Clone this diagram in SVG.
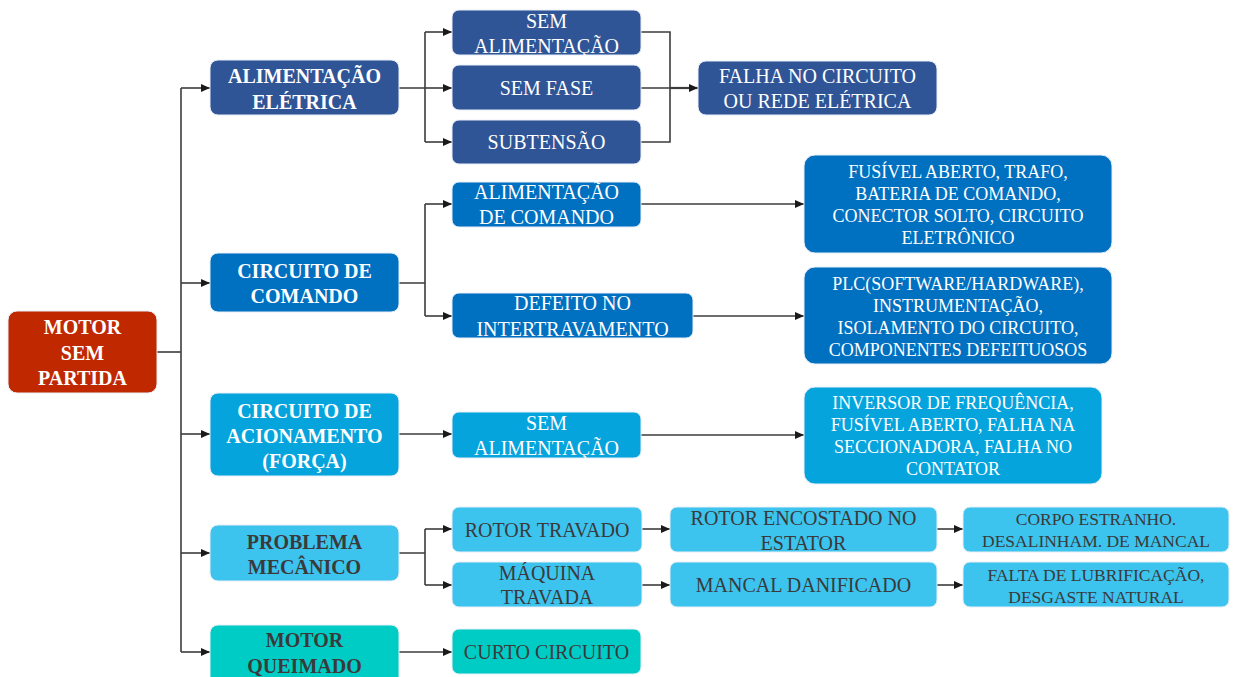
<svg xmlns="http://www.w3.org/2000/svg" width="1235" height="677" viewBox="0 0 1235 677">
  <defs>
    <marker id="arrow" markerUnits="userSpaceOnUse" markerWidth="9" markerHeight="8" refX="9" refY="4" orient="auto">
      <path d="M0,0 L9,4 L0,8 z" fill="#1a1a1a"/>
    </marker>
    <style>
      .box { stroke: #e8eef6; stroke-width: 1; }
      .c-root { fill: #c02800; }
      .c-elet { fill: #2f5597; }
      .c-cmd { fill: #0070c0; }
      .c-acio { fill: #05a4dd; }
      .c-mec { fill: #3cc3ee; }
      .c-quei { fill: #00ccc6; }
      text { font-family: "Liberation Serif", "Times New Roman", serif; text-anchor: middle; }
      .hd { font-size: 20px; font-weight: bold; }
      .t20 { font-size: 20px; }
      .t18 { font-size: 18px; }
      .t17 { font-size: 17.5px; }
      .lt { fill: #ffffff; }
      .dk { fill: #3a3a3a; }
      .conn { fill: none; stroke: #3c3c3c; stroke-width: 1.6; }
      .arr { marker-end: url(#arrow); }
    </style>
  </defs>

  <!-- connectors -->
  <g id="connectors">
    <path class="conn" d="M157,352 H181"/>
    <path class="conn" d="M181,88 V652"/>
    <path class="conn arr" d="M181,88 H210"/>
    <path class="conn arr" d="M181,283 H210"/>
    <path class="conn arr" d="M181,434 H210"/>
    <path class="conn arr" d="M181,553 H210"/>
    <path class="conn arr" d="M181,652 H210"/>

    <!-- alimentação elétrica branch -->
    <path class="conn" d="M399,88 H425 M425,32 V142"/>
    <path class="conn arr" d="M425,32 H452"/>
    <path class="conn arr" d="M425,88 H452"/>
    <path class="conn arr" d="M425,142 H452"/>
    <path class="conn" d="M641,32 H670 V142 H641 M641,88 H670"/>
    <path class="conn arr" d="M670,88 H698" style="stroke-width:2.2"/>

    <!-- circuito de comando branch -->
    <path class="conn" d="M399,283 H425 M425,204 V316"/>
    <path class="conn arr" d="M425,204 H452"/>
    <path class="conn arr" d="M425,316 H452"/>
    <path class="conn arr" d="M641,204 H804"/>
    <path class="conn arr" d="M693,316 H804"/>

    <!-- circuito de acionamento branch -->
    <path class="conn arr" d="M399,434 H452"/>
    <path class="conn arr" d="M641,435 H804"/>

    <!-- problema mecânico branch -->
    <path class="conn" d="M399,553 H425 M425,529 V585"/>
    <path class="conn arr" d="M425,529 H452"/>
    <path class="conn arr" d="M425,585 H452"/>
    <path class="conn arr" d="M642,529 H670"/>
    <path class="conn arr" d="M642,585 H670"/>
    <path class="conn arr" d="M937,529 H963"/>
    <path class="conn arr" d="M937,585 H963"/>

    <!-- motor queimado branch -->
    <path class="conn arr" d="M399,652 H452"/>
  </g>

  <!-- root -->
  <g id="motor-sem-partida">
    <rect class="box c-root" x="8" y="311" width="149" height="82" rx="9"/>
    <text class="hd lt" x="82.5" y="334">MOTOR</text>
    <text class="hd lt" x="82.5" y="359.5">SEM</text>
    <text class="hd lt" x="82.5" y="385">PARTIDA</text>
  </g>

  <!-- level 1 -->
  <g id="alimentacao-eletrica">
    <rect class="box c-elet" x="210" y="60" width="189" height="55" rx="8"/>
    <text class="hd lt" x="304.5" y="83">ALIMENTAÇÃO</text>
    <text class="hd lt" x="304.5" y="108.5">ELÉTRICA</text>
  </g>
  <g id="circuito-comando">
    <rect class="box c-cmd" x="210" y="253" width="189" height="59" rx="8"/>
    <text class="hd lt" x="304.5" y="278">CIRCUITO DE</text>
    <text class="hd lt" x="304.5" y="303">COMANDO</text>
  </g>
  <g id="circuito-acionamento">
    <rect class="box c-acio" x="210" y="393" width="189" height="83" rx="8"/>
    <text class="hd lt" x="304.5" y="418">CIRCUITO DE</text>
    <text class="hd lt" x="304.5" y="443">ACIONAMENTO</text>
    <text class="hd lt" x="304.5" y="468">(FORÇA)</text>
  </g>
  <g id="problema-mecanico">
    <rect class="box c-mec" x="210" y="525" width="189" height="56" rx="8"/>
    <text class="hd dk" x="304.5" y="549">PROBLEMA</text>
    <text class="hd dk" x="304.5" y="573.5">MECÂNICO</text>
  </g>
  <g id="motor-queimado">
    <rect class="box c-quei" x="210" y="625" width="189" height="62" rx="8"/>
    <text class="hd dk" x="304.5" y="647">MOTOR</text>
    <text class="hd dk" x="304.5" y="672.5">QUEIMADO</text>
  </g>

  <!-- alimentação elétrica causes -->
  <g id="sem-alimentacao-1">
    <rect class="box c-elet" x="452" y="10" width="189" height="45" rx="7"/>
    <text class="t20 lt" x="546.5" y="28">SEM</text>
    <text class="t20 lt" x="546.5" y="53">ALIMENTAÇÃO</text>
  </g>
  <g id="sem-fase">
    <rect class="box c-elet" x="452" y="65" width="189" height="45" rx="7"/>
    <text class="t20 lt" x="546.5" y="95">SEM FASE</text>
  </g>
  <g id="subtensao">
    <rect class="box c-elet" x="452" y="120" width="189" height="44" rx="7"/>
    <text class="t20 lt" x="546.5" y="149">SUBTENSÃO</text>
  </g>
  <g id="falha-circuito">
    <rect class="box c-elet" x="698" y="61" width="239" height="54" rx="8"/>
    <text class="t20 lt" x="817.5" y="83">FALHA NO CIRCUITO</text>
    <text class="t20 lt" x="817.5" y="107.5">OU REDE ELÉTRICA</text>
  </g>

  <!-- circuito de comando causes -->
  <g id="alimentacao-comando">
    <rect class="box c-cmd" x="452" y="182" width="189" height="45" rx="7"/>
    <text class="t20 lt" x="546.5" y="199">ALIMENTAÇÃO</text>
    <text class="t20 lt" x="546.5" y="224">DE COMANDO</text>
  </g>
  <g id="defeito-intertravamento">
    <rect class="box c-cmd" x="452" y="293" width="241" height="45" rx="7"/>
    <text class="t20 lt" x="572.5" y="310">DEFEITO NO</text>
    <text class="t20 lt" x="572.5" y="336">INTERTRAVAMENTO</text>
  </g>
  <g id="fusivel-trafo">
    <rect class="box c-cmd" x="804" y="155" width="308" height="98" rx="11"/>
    <text class="t18 lt" x="958" y="178">FUSÍVEL ABERTO, TRAFO,</text>
    <text class="t18 lt" x="958" y="200">BATERIA DE COMANDO,</text>
    <text class="t18 lt" x="958" y="222">CONECTOR SOLTO, CIRCUITO</text>
    <text class="t18 lt" x="958" y="244">ELETRÔNICO</text>
  </g>
  <g id="plc-instrumentacao">
    <rect class="box c-cmd" x="804" y="267" width="308" height="97" rx="11"/>
    <text class="t18 lt" x="958" y="290">PLC(SOFTWARE/HARDWARE),</text>
    <text class="t18 lt" x="958" y="312">INSTRUMENTAÇÃO,</text>
    <text class="t18 lt" x="958" y="334">ISOLAMENTO DO CIRCUITO,</text>
    <text class="t18 lt" x="958" y="356">COMPONENTES DEFEITUOSOS</text>
  </g>

  <!-- circuito de acionamento causes -->
  <g id="sem-alimentacao-2">
    <rect class="box c-acio" x="452" y="412" width="189" height="46" rx="7"/>
    <text class="t20 lt" x="546.5" y="430">SEM</text>
    <text class="t20 lt" x="546.5" y="455">ALIMENTAÇÃO</text>
  </g>
  <g id="inversor-frequencia">
    <rect class="box c-acio" x="804" y="387" width="298" height="97" rx="11"/>
    <text class="t18 lt" x="953" y="409">INVERSOR DE FREQUÊNCIA,</text>
    <text class="t18 lt" x="953" y="431">FUSÍVEL ABERTO, FALHA NA</text>
    <text class="t18 lt" x="953" y="453">SECCIONADORA, FALHA NO</text>
    <text class="t18 lt" x="953" y="475">CONTATOR</text>
  </g>

  <!-- problema mecânico causes -->
  <g id="rotor-travado">
    <rect class="box c-mec" x="452" y="507" width="190" height="45" rx="7"/>
    <text class="t20 dk" x="547" y="537">ROTOR TRAVADO</text>
  </g>
  <g id="maquina-travada">
    <rect class="box c-mec" x="452" y="562" width="190" height="45" rx="7"/>
    <text class="t20 dk" x="547" y="580">MÁQUINA</text>
    <text class="t20 dk" x="547" y="604">TRAVADA</text>
  </g>
  <g id="rotor-encostado">
    <rect class="box c-mec" x="670" y="507" width="267" height="45" rx="7"/>
    <text class="t20 dk" x="803.5" y="525">ROTOR ENCOSTADO NO</text>
    <text class="t20 dk" x="803.5" y="550">ESTATOR</text>
  </g>
  <g id="mancal-danificado">
    <rect class="box c-mec" x="670" y="562" width="267" height="45" rx="7"/>
    <text class="t20 dk" x="803.5" y="592">MANCAL DANIFICADO</text>
  </g>
  <g id="corpo-estranho">
    <rect class="box c-mec" x="963" y="507" width="266" height="45" rx="7"/>
    <text class="t17 dk" x="1096" y="525">CORPO ESTRANHO.</text>
    <text class="t17 dk" x="1096" y="547">DESALINHAM. DE MANCAL</text>
  </g>
  <g id="falta-lubrificacao">
    <rect class="box c-mec" x="963" y="562" width="266" height="45" rx="7"/>
    <text class="t17 dk" x="1096" y="581">FALTA DE LUBRIFICAÇÃO,</text>
    <text class="t17 dk" x="1096" y="603">DESGASTE NATURAL</text>
  </g>

  <!-- motor queimado cause -->
  <g id="curto-circuito">
    <rect class="box c-quei" x="452" y="629" width="189" height="45" rx="7"/>
    <text class="t20 dk" x="546.5" y="659">CURTO CIRCUITO</text>
  </g>
</svg>
